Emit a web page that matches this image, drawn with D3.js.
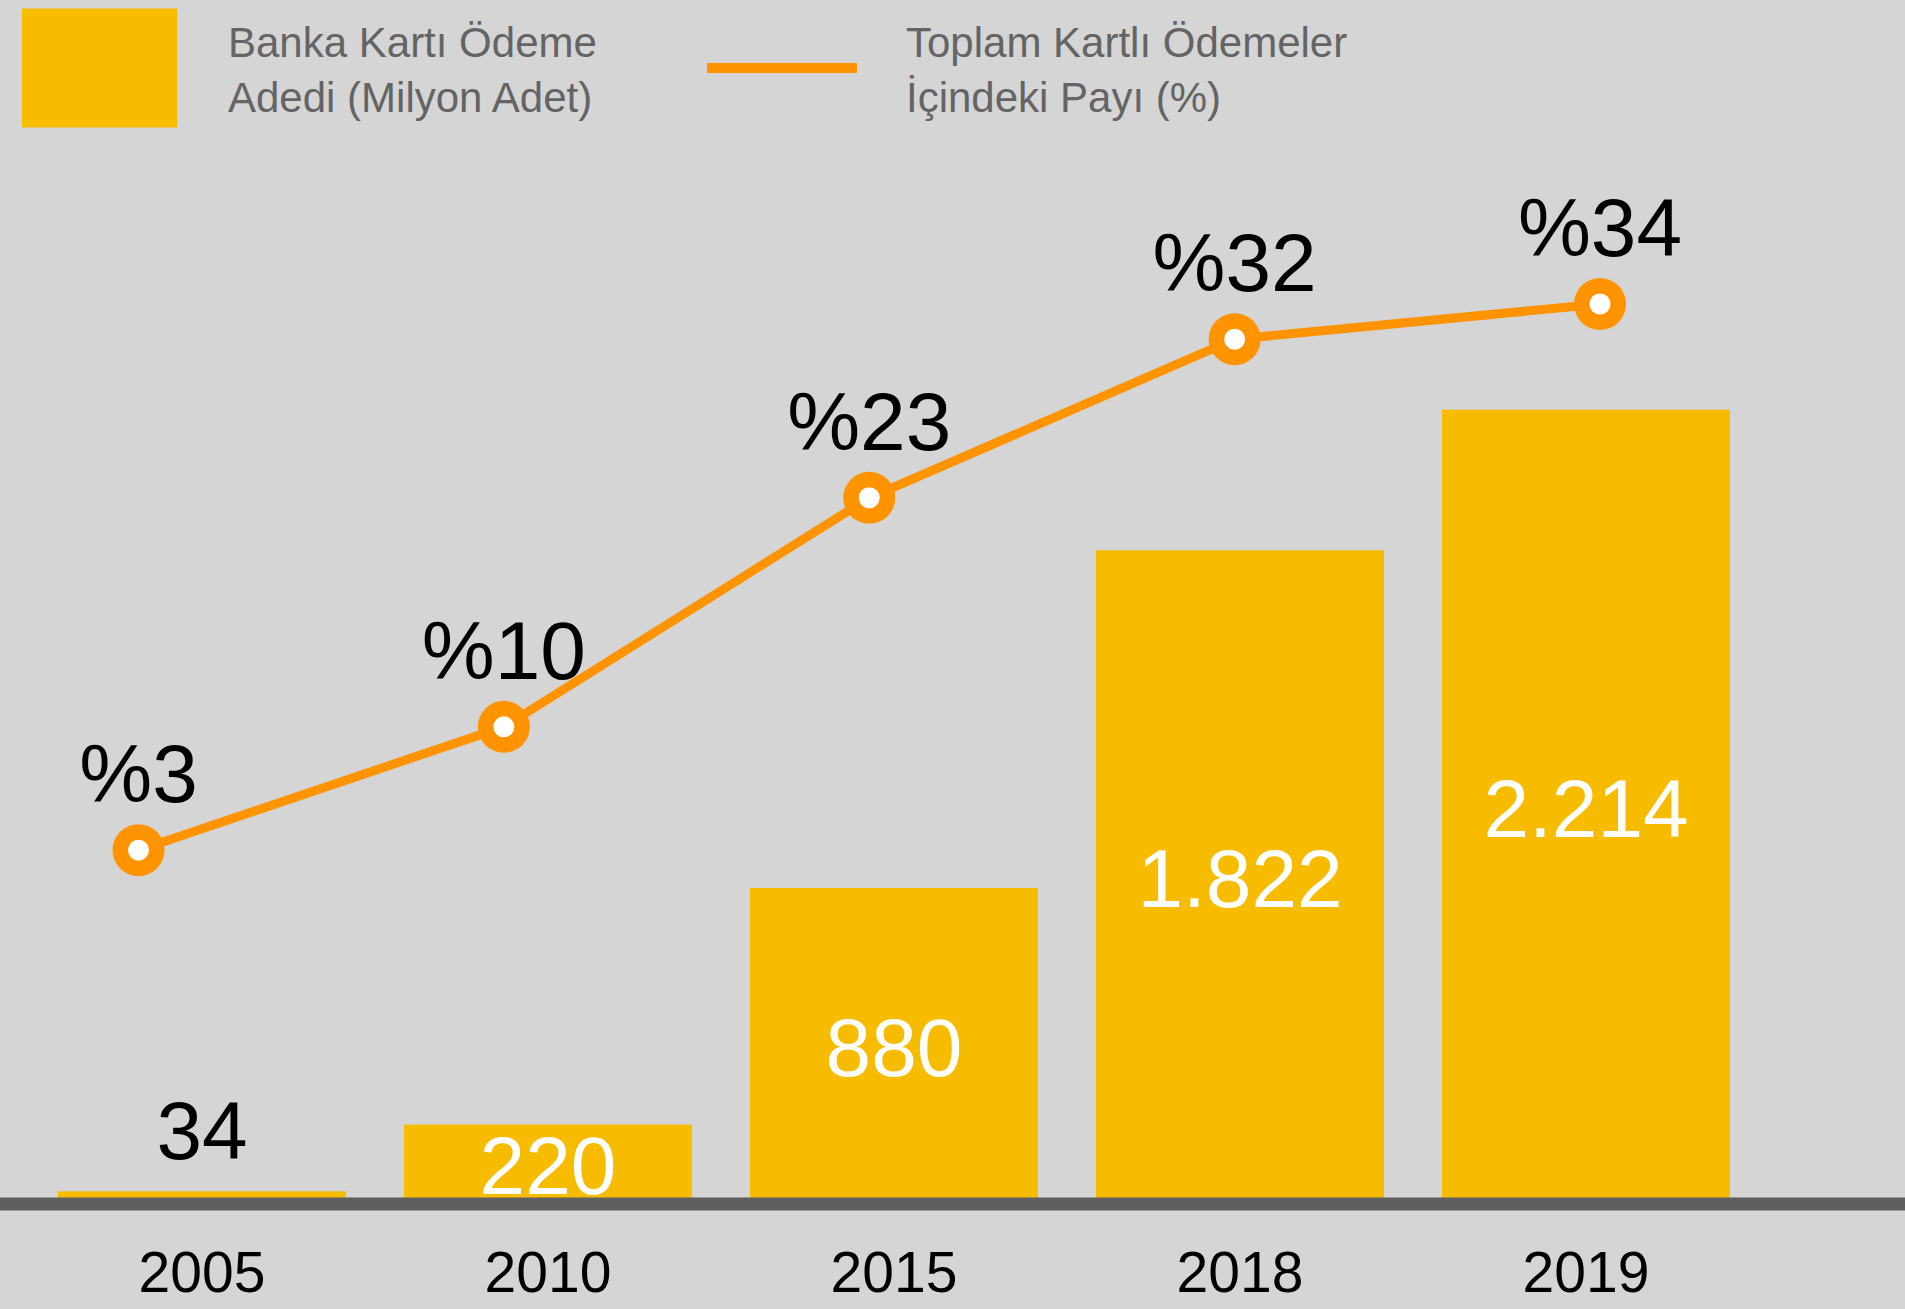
<!DOCTYPE html>
<html>
<head>
<meta charset="utf-8">
<script src="https://cdn.jsdelivr.net/npm/d3@7"></script>
<style>
  html, body { margin: 0; padding: 0; background: #D5D5D5; }
  svg { display: block; font-family: "Liberation Sans", Arial, sans-serif; }
</style>
</head>
<body>
<script>
const years = ["2005", "2010", "2015", "2018", "2019"];
const cardPayments = [34, 220, 880, 1822, 2214];
const cardPaymentLabels = ["34", "220", "880", "1.822", "2.214"];
const sharePct = [3, 10, 23, 32, 34];
const shareLabels = ["%3", "%10", "%23", "%32", "%34"];
const legendBarText = ["Banka Kartı Ödeme", "Adedi (Milyon Adet)"];
const legendLineText = ["Toplam Kartlı Ödemeler", "İçindeki Payı (%)"];

const W = 1905, H = 1309;
const barColor = "#F7BC00", lineColor = "#FF9300", bg = "#D5D5D5";

const svg = d3.select("body").append("svg").attr("width", W).attr("height", H);
svg.append("rect").attr("width", W).attr("height", H).attr("fill", bg);

const baseY = 1197;
const x = d3.scaleBand().domain(years).range([29, 1759]).paddingInner(0.1676).paddingOuter(0.0838);
const y = d3.scaleLinear().domain([0, 2214]).range([1203.5, 409.7]);
const xl = d3.scalePoint().domain(years).range([138.5, 1600]).padding(0);
const yl = d3.scaleLinear().domain([0, 34]).range([903, 304]);

// bars
svg.selectAll("rect.bar").data(years).join("rect").attr("class", "bar")
  .attr("x", d => x(d)).attr("width", x.bandwidth())
  .attr("y", (d, i) => y(cardPayments[i]))
  .attr("height", (d, i) => y(0) - y(cardPayments[i]))
  .attr("fill", barColor);

// bar labels
const fsBar = 82;
svg.selectAll("text.blab").data(years).join("text").attr("class", "blab")
  .attr("x", d => x(d) + x.bandwidth() / 2)
  .attr("y", (d, i) => {
    const h = baseY - y(cardPayments[i]);
    if (h < 30) return y(cardPayments[i]) - 32;
    return (y(cardPayments[i]) + baseY) / 2 + 0.36 * fsBar + 4;
  })
  .attr("text-anchor", "middle").attr("font-size", fsBar)
  .attr("fill", (d, i) => (baseY - y(cardPayments[i]) < 30) ? "#000" : "#fff")
  .text((d, i) => cardPaymentLabels[i]);

// axis band
svg.append("line").attr("x1", 0).attr("x2", W).attr("y1", baseY + 7).attr("y2", baseY + 7)
  .attr("stroke", "#5F5F5F").attr("stroke-width", 13);

// x axis labels
const ax = svg.append("g").attr("transform", `translate(0,${baseY + 14})`)
  .call(d3.axisBottom(x).tickSize(0).tickPadding(41));
ax.select(".domain").remove();
ax.selectAll("text").attr("font-size", 57).attr("fill", "#000")
  .attr("font-family", "'Liberation Sans', Arial, sans-serif");

// line
const pts = years.map((d, i) => [xl(d), yl(sharePct[i])]);
svg.append("path").attr("d", d3.line()(pts)).attr("fill", "none")
  .attr("stroke", lineColor).attr("stroke-width", 9);
svg.selectAll("circle.outer").data(pts).join("circle").attr("class", "outer")
  .attr("cx", d => d[0]).attr("cy", d => d[1]).attr("r", 26).attr("fill", lineColor);
svg.selectAll("circle.inner").data(pts).join("circle").attr("class", "inner")
  .attr("cx", d => d[0]).attr("cy", d => d[1]).attr("r", 10.5).attr("fill", "#fff");

svg.selectAll("text.plab").data(pts).join("text").attr("class", "plab")
  .attr("x", d => d[0]).attr("y", d => d[1] - 48)
  .attr("text-anchor", "middle").attr("font-size", 82).attr("fill", "#000")
  .text((d, i) => shareLabels[i]);

// legend
svg.append("rect").attr("x", 22).attr("y", 8.5).attr("width", 155).attr("height", 119).attr("fill", barColor);
svg.append("line").attr("x1", 707).attr("x2", 857).attr("y1", 68).attr("y2", 68)
  .attr("stroke", lineColor).attr("stroke-width", 10);
const lt1 = svg.append("text").attr("x", 228).attr("font-size", 42).attr("fill", "#646464");
legendBarText.forEach((t, i) => lt1.append("tspan").attr("x", 228).attr("y", 57 + i * 55).text(t));
const lt2 = svg.append("text").attr("x", 906).attr("font-size", 42).attr("fill", "#646464");
legendLineText.forEach((t, i) => lt2.append("tspan").attr("x", 906).attr("y", 57 + i * 55).text(t));
</script>
</body>
</html>
